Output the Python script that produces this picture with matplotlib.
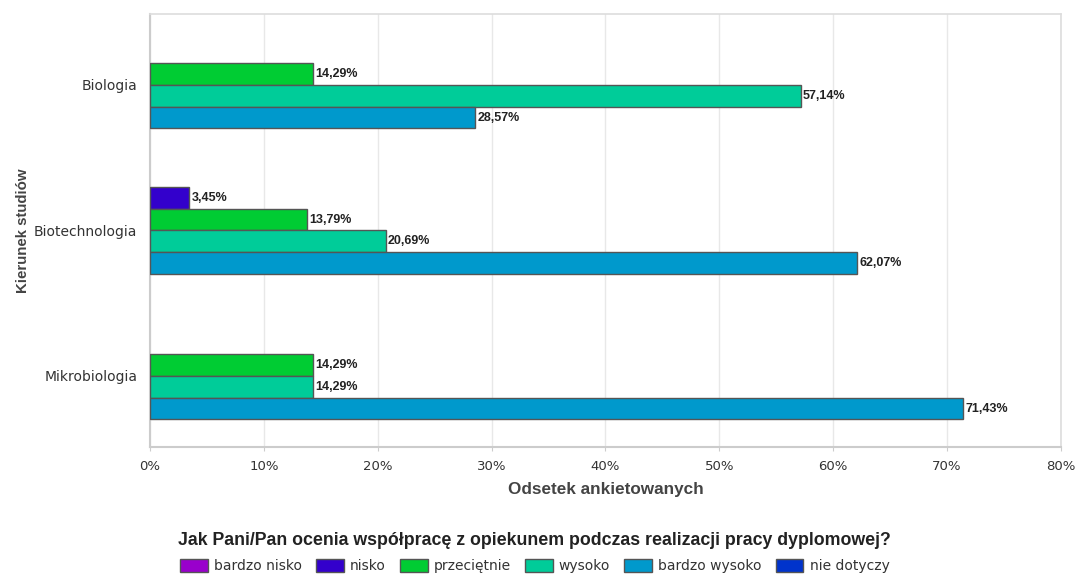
import matplotlib
matplotlib.use("Agg")
import matplotlib.pyplot as plt
from matplotlib.patches import Patch
import numpy as np

categories = ["Biologia", "Biotechnologia", "Mikrobiologia"]
series_names = ["bardzo nisko", "nisko", "przeciętnie", "wysoko", "bardzo wysoko", "nie dotyczy"]
series_colors = ["#9900CC", "#3300CC", "#00CC33", "#00CC99", "#0099CC", "#0033CC"]

bardzo_nisko = [0.0, 0.0, 0.0]
nisko = [0.0, 3.45, 0.0]
przecietnie = [14.29, 13.79, 14.29]
wysoko = [57.14, 20.69, 14.29]
bardzo_wysoko = [28.57, 62.07, 71.43]
nie_dotyczy = [0.0, 0.0, 0.0]
series_values = [bardzo_nisko, nisko, przecietnie, wysoko, bardzo_wysoko, nie_dotyczy]

x_ticks = [0, 10, 20, 30, 40, 50, 60, 70, 80]
x_title = "Odsetek ankietowanych"
y_title = "Kierunek studiów"
legend_title = "Jak Pani/Pan ocenia współpracę z opiekunem podczas realizacji pracy dyplomowej?"

narrow_bold = ["Liberation Sans Narrow", "Liberation Sans", "DejaVu Sans"]

fig = plt.figure(figsize=(10.76, 5.75), dpi=100)
ax = fig.add_axes([0.1394, 0.2226, 0.8466, 0.7531])

n_series = len(series_names)
bar_h = 0.149
ypos = np.arange(len(categories))

for i, (name, vals, col) in enumerate(zip(series_names, series_values, series_colors)):
    vals = np.asarray(vals)
    offs = (i - (n_series - 1) / 2) * bar_h
    idx = np.nonzero(vals > 0)[0]
    if len(idx) == 0:
        continue
    ax.barh(ypos[idx] + offs, vals[idx], height=bar_h, color=col,
            edgecolor="#555555", linewidth=1.0, zorder=3)
    for j in idx:
        ax.text(vals[j] + 0.2, ypos[j] + offs,
                f"{vals[j]:.2f}%".replace(".", ","),
                va="center", ha="left", fontsize=9, fontweight="bold",
                family=narrow_bold, color="#222222", zorder=4)

ax.set_xlim(0, 80)
ax.set_ylim(len(categories) - 1 + 0.488, -0.488)
ax.set_xticks(x_ticks)
ax.set_xticklabels([f"{t}%" for t in x_ticks], fontsize=9.5, color="#333333")
ax.set_yticks(ypos)
ax.set_yticklabels(categories, fontsize=10, color="#333333")
ax.tick_params(axis="y", length=0, pad=9)
ax.tick_params(axis="x", length=3, color="#cccccc", pad=6)

ax.grid(axis="x", color="#e8e8e8", linewidth=1.0, zorder=0)
for side in ["top", "right"]:
    ax.spines[side].set_color("#dddddd")
    ax.spines[side].set_linewidth(1.2)
for side in ["left", "bottom"]:
    ax.spines[side].set_color("#cccccc")
    ax.spines[side].set_linewidth(1.5)

ax.set_xlabel(x_title, fontsize=12.3, fontweight="bold", color="#444444",
              family=["Liberation Sans", "DejaVu Sans"], labelpad=7)
ax.set_ylabel(y_title, fontsize=10.8, fontweight="bold", color="#444444",
              family=["Liberation Sans", "DejaVu Sans"], labelpad=3)

handles = [Patch(facecolor=c, edgecolor="#555555", linewidth=1.0) for c in series_colors]
leg = fig.legend(handles, series_names, loc="center", bbox_to_anchor=(0.497, 0.039),
                 ncol=n_series, frameon=False, fontsize=10, handlelength=2.0,
                 handleheight=1.1, handletextpad=0.45, columnspacing=1.0,
                 labelspacing=0.75, title=legend_title,
                 title_fontproperties={"family": narrow_bold, "weight": "bold", "size": 12.8})
for t in leg.get_texts():
    t.set_color("#333333")
leg.get_title().set_color("#222222")

fig.savefig("out.png", dpi=100, facecolor="white")
